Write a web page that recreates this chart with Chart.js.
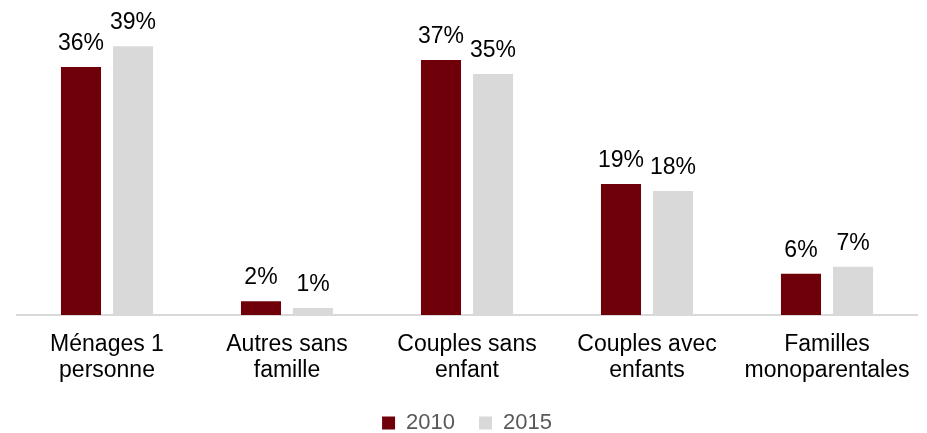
<!DOCTYPE html>
<html>
<head>
<meta charset="utf-8">
<script src="https://cdn.jsdelivr.net/npm/chart.js@4"></script>
<style>
  html, body { margin: 0; padding: 0; background: #fff; }
  #wrap { width: 927px; height: 433px; position: relative; }
</style>
</head>
<body>
<div id="wrap"><canvas id="households"></canvas></div>
<script>
const categories = [
  ['Ménages 1', 'personne'],
  ['Autres sans', 'famille'],
  ['Couples sans', 'enfant'],
  ['Couples avec', 'enfants'],
  ['Familles', 'monoparentales']
]
const values2010 = [36, 2, 37, 19, 6]
const values2015 = [39, 1, 35, 18, 7]
const seriesLabels = ['2010', '2015']

const FONT = '"Liberation Sans", Arial, sans-serif'

// percentage above each bar
const valueLabels = {
  id: 'valueLabels',
  afterDatasetsDraw(chart) {
    const ctx = chart.ctx
    ctx.save()
    ctx.font = '23px ' + FONT
    ctx.fillStyle = '#000'
    ctx.textAlign = 'center'
    ctx.textBaseline = 'alphabetic'
    chart.data.datasets.forEach((ds, i) => {
      chart.getDatasetMeta(i).data.forEach((bar, j) => {
        ctx.fillText(ds.data[j] + '%', bar.x, bar.y - 17)
      })
    })
    ctx.restore()
  }
}

new Chart(document.getElementById('households'), {
  type: 'bar',
  data: {
    labels: categories,
    datasets: [
      {label: seriesLabels[0], data: values2010, backgroundColor: '#6F0009', categoryPercentage: 0.578, barPercentage: 0.77},
      {label: seriesLabels[1], data: values2015, backgroundColor: '#D9D9D9', categoryPercentage: 0.578, barPercentage: 0.77}
    ]
  },
  options: {
    responsive: true,
    maintainAspectRatio: false,
    animation: false,
    layout: {padding: {left: 17, right: 10, top: 5, bottom: -11}},
    plugins: {
      tooltip: {enabled: false},
      legend: {
        position: 'bottom',
        labels: {
          boxWidth: 13,
          boxHeight: 13,
          padding: 24,
          color: '#595959',
          font: {family: FONT, size: 22}
        }
      }
    },
    scales: {
      y: {display: false, min: 0, max: 45},
      x: {
        grid: {display: false, drawTicks: false},
        border: {color: '#D9D9D9', width: 2},
        ticks: {
          color: '#000',
          padding: 16,
          maxRotation: 0,
          autoSkip: false,
          font: {family: FONT, size: 23, lineHeight: 1.15}
        },
        afterFit(scale) {
          scale.height = 73
        }
      }
    }
  },
  plugins: [valueLabels]
})
</script>
</body>
</html>
